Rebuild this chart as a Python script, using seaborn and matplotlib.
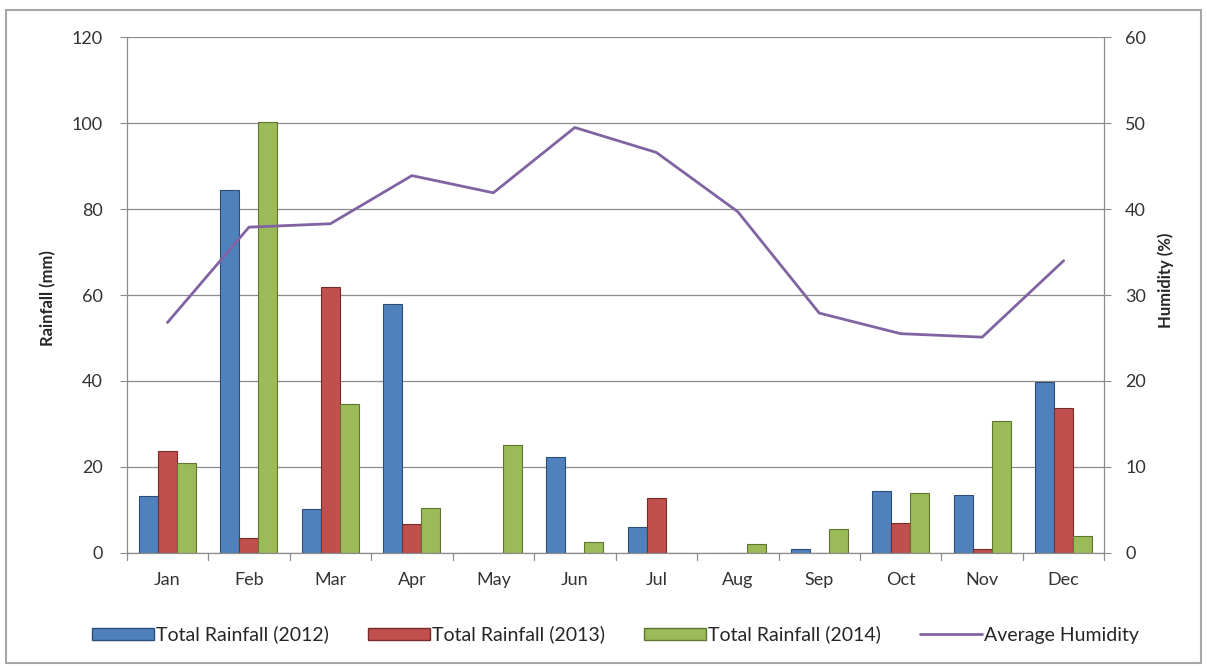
import matplotlib
matplotlib.use("Agg")
import matplotlib.pyplot as plt
import numpy as np
import pandas as pd
import seaborn as sns

months = ["Jan", "Feb", "Mar", "Apr", "May", "Jun", "Jul", "Aug", "Sep", "Oct", "Nov", "Dec"]
rain_2012 = [13.3, 84.5, 10.2, 57.8, 0, 22.3, 5.9, 0, 0.8, 14.4, 13.4, 39.8]
rain_2013 = [23.8, 3.4, 61.8, 6.6, 0, 0, 12.8, 0, 0, 7.0, 0.8, 33.8]
rain_2014 = [21.0, 100.2, 34.6, 10.4, 25.0, 2.5, 0, 2.1, 5.5, 14.0, 30.7, 4.0]
humidity = [26.8, 37.9, 38.3, 43.9, 41.9, 49.5, 46.6, 39.7, 27.9, 25.5, 25.1, 34.0]

series = ["Total Rainfall (2012)", "Total Rainfall (2013)", "Total Rainfall (2014)"]
colors = ["#4F81BD", "#C0504D", "#9BBB59"]
edges = ["#2C4D75", "#772C2A", "#5F7530"]
line_color = "#8064A2"

df = pd.DataFrame({
    "Month": months * 3,
    "Rainfall": rain_2012 + rain_2013 + rain_2014,
    "Series": [s for s in series for _ in months],
})

sns.set_style("white")
plt.rcParams["font.family"] = ["Lato", "DejaVu Sans"]

fig = plt.figure(figsize=(12.07, 6.66), dpi=100)
ax = fig.add_axes([0.105, 0.170, 0.810, 0.774])

sns.barplot(data=df, x="Month", y="Rainfall", hue="Series", order=months,
            hue_order=series, palette=colors, width=0.7, saturation=1,
            errorbar=None, ax=ax, legend=False)
for cont, ec in zip(ax.containers, edges):
    for b in cont:
        b.set_edgecolor(ec)
        b.set_linewidth(0.8)

ax.set_ylim(0, 120)
ax.set_yticks(np.arange(0, 121, 20))
ax.set_xlim(-0.5, 11.5)
ax.yaxis.grid(True, color="#8C8C8C", linewidth=0.9)
ax.set_axisbelow(True)
ax.set_xlabel("")
ax.set_ylabel("")
for s in ["top", "right"]:
    ax.spines[s].set_visible(False)
for s in ["left", "bottom"]:
    ax.spines[s].set_color("#8C8C8C")
    ax.spines[s].set_linewidth(0.9)
ax.tick_params(axis="y", length=5, color="#8C8C8C", labelsize=13, labelcolor="#333333", pad=12, left=True)
ax.tick_params(axis="x", length=0, labelsize=13, labelcolor="#333333", pad=14)
for xb in np.arange(-0.5, 12, 1):
    ax.plot([xb, xb], [0, -1.6], color="#8C8C8C", lw=0.9, clip_on=False)

ax2 = ax.twinx()
sns.lineplot(x=np.arange(len(months)), y=humidity, color=line_color, linewidth=2, ax=ax2)
ax2.set_ylim(0, 60)
ax2.set_yticks(np.arange(0, 61, 10))
for s in ["top", "left", "bottom"]:
    ax2.spines[s].set_visible(False)
ax2.spines["right"].set_color("#8C8C8C")
ax2.spines["right"].set_linewidth(0.9)
ax2.tick_params(axis="y", length=5, color="#8C8C8C", labelsize=13, labelcolor="#333333", pad=10, right=True)

fig.text(48 / 1207, 1 - 298 / 666, "Rainfall (mm)", rotation=90, ha="center", va="center",
         fontsize=12, fontweight="bold")
fig.text(1166 / 1207, 1 - 280 / 666, "Humidity (%)", rotation=90, ha="center", va="center",
         fontsize=12, fontweight="bold")

handles = [plt.Rectangle((0, 0), 1, 1, facecolor=c, edgecolor=e) for c, e in zip(colors, edges)]
handles.append(plt.Line2D([0], [0], color=line_color, lw=2))
fig.legend(handles, series + ["Average Humidity"], loc="center", bbox_to_anchor=(0.51, 0.047),
           ncol=4, frameon=False, fontsize=14, handlelength=3.2, handleheight=0.55,
           handletextpad=0.1, columnspacing=2.0)

fig.add_artist(plt.Rectangle((0.005, 0.005), 0.99, 0.98, transform=fig.transFigure,
                             fill=False, edgecolor="#A6A6A6", linewidth=1.5))

fig.savefig("out.png", dpi=100)
